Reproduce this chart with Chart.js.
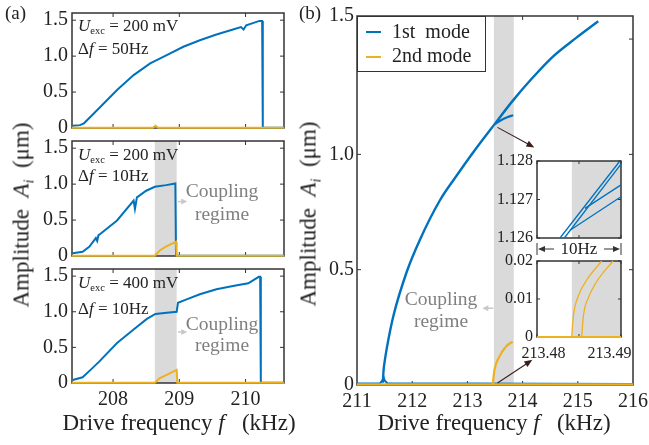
<!DOCTYPE html>
<html>
<head>
<meta charset="utf-8">
<script src="https://cdn.jsdelivr.net/npm/chart.js@4.4.0/dist/chart.umd.min.js"></script>
<style>
  body { margin: 0; width: 649px; height: 445px; position: relative; overflow: hidden; background: #fff;
         font-family: 'Liberation Serif', serif; color: #222; }
  canvas { position: absolute; }
  .t { position: absolute; white-space: nowrap; line-height: 1; }
  .t sub { font-size: 0.62em; position: relative; top: 0.32em; vertical-align: baseline; line-height: 0; }
  .gray { color: #7f7f7f; text-align: center; }
  #legend { position: absolute; left: 357px; top: 16px; width: 127px; height: 54px; border: 1px solid #333; background: #fff; }
  .sw { position: absolute; left: 8px; width: 15px; height: 2px; }
</style>
</head>
<body>
<div id="legend">
  <div class="sw" style="top:14px;background:#0072BD"></div>
  <div class="sw" style="top:39px;background:#EDB120"></div>
</div>
<script>
const FONT = "'Liberation Serif', serif";
const BLUE = '#0072BD';
const ORANGE = '#EDB120';
const BAND = '#dadada';

// ---- panel (a): three sweeps, points are [f (kHz), A (um)]
const aTicksX = [208, 209, 210];
const aTicksY = [0, 0.5, 1.0, 1.5];
const aBand = [208.63, 208.96];

// U = 200 mV, df = 50 Hz
const a1Mode1 = [[207.39,0.03],[207.50,0.04],[207.56,0.065],[207.66,0.157],[207.81,0.296],[208.06,0.528],
  [208.31,0.736],[208.56,0.90],[208.81,1.014],[209.06,1.13],[209.31,1.22],[209.56,1.30],[209.81,1.37],
  [209.93,1.405],[209.97,1.37],[210.01,1.43],[210.21,1.49],[210.25,1.49],[210.26,0.004],[210.58,0.004]];
const a1Mode2 = [[207.38,0.004],[208.60,0.004],[208.64,0.03],[208.68,0.004],[210.58,0.004]];

// U = 200 mV, df = 10 Hz
const a2Mode1 = [[207.39,0.037],[207.54,0.06],[207.64,0.128],[207.74,0.25],[207.76,0.21],[207.78,0.29],
  [207.81,0.31],[208.06,0.495],[208.31,0.77],[208.33,0.656],[208.36,0.816],[208.50,0.908],[208.63,0.963],
  [208.80,0.986],[208.94,1.008],[208.95,0.004],[210.58,0.004]];
const a2Mode2 = [[207.38,0.004],[208.63,0.004],[208.64,0.014],[208.71,0.08],[208.81,0.137],[208.95,0.197],
  [208.96,0.004],[210.58,0.004]];

// U = 400 mV, df = 10 Hz
const a3Mode1 = [[207.39,0.042],[207.54,0.08],[207.66,0.184],[207.79,0.30],[208.06,0.56],[208.31,0.75],
  [208.51,0.90],[208.64,0.97],[208.81,0.986],[208.96,1.0],[208.98,1.127],[209.11,1.174],[209.31,1.245],
  [209.56,1.316],[209.81,1.362],[210.04,1.40],[210.20,1.49],[210.22,1.49],[210.23,0.004],[210.58,0.004]];
const a3Mode2 = [[207.38,0.004],[208.63,0.004],[208.64,0.01],[208.70,0.066],[208.81,0.113],[208.96,0.184],
  [208.97,0.004],[210.58,0.004]];

// ---- panel (b)
const bTicksX = [211, 212, 213, 214, 215, 216];
const bTicksY = [0, 0.5, 1.0, 1.6];   // top tick carries the "1.5" label
const bBand = [213.48, 213.84];
const bMode1Up = [[211.47,0.01],[211.48,0.06],[211.50,0.10],[211.54,0.16],[211.66,0.30],[211.90,0.49],
  [212.14,0.63],[212.50,0.80],[212.80,0.906],[213.10,1.007],[213.49,1.13],[213.82,1.232],[214.18,1.332],
  [214.54,1.422],[214.97,1.505],[215.37,1.577]];
const bMode1Low = [[213.49,1.13],[213.60,1.147],[213.72,1.161],[213.83,1.17]];
const bMode1Base = [[211,0.006],[211.42,0.008],[211.46,0.02],[211.48,0.035],[211.50,0.02],[211.55,0.008],[216,0.004]];
const bMode2Base = [[211,0.003],[216,0.003]];
const bMode2Up = [[213.46,0.003],[213.49,0.065],[213.58,0.123],[213.70,0.167],[213.82,0.188]];

// ---- insets (zoom around 213.48 kHz)
const inTicksX = [213.48, 213.485, 213.49];
const in1TicksY = [1.126, 1.127, 1.128];
const in2TicksY = [0, 0.01, 0.02];
const inBand = [213.48415, 213.49];
const in1Mode1 = [
  [[213.48274,1.12600],[213.48980,1.12798]],
  [[213.48325,1.12600],[213.49000,1.12792]],
  [[213.48571,1.12677],[213.49000,1.12738]],
  [[213.48393,1.12620],[213.49000,1.12707]]
];
const in2Mode2 = [
  [[213.48413,0],[213.48433,0.0055],[213.48492,0.0108],[213.48592,0.0150],[213.48770,0.0200]],
  [[213.48532,0],[213.48552,0.0055],[213.48611,0.0103],[213.48711,0.0146],[213.48905,0.0200]]
];
const in2Base = [[213.48,0],[213.49,0]];

function line(pts, color, width, smooth, order) {
  return {
    data: pts.map(p => ({ x: p[0], y: p[1] })),
    borderColor: color, borderWidth: width, pointRadius: 0, fill: false,
    tension: 0, cubicInterpolationMode: smooth ? 'monotone' : 'default',
    clip: 3, order: order
  };
}

function arrow(ctx, x0, y0, x1, y1, color, w, hl, hw) {
  const a = Math.atan2(y1 - y0, x1 - x0), c = Math.cos(a), s = Math.sin(a);
  ctx.strokeStyle = color; ctx.fillStyle = color; ctx.lineWidth = w;
  ctx.beginPath(); ctx.moveTo(x0, y0); ctx.lineTo(x1 - hl * 0.7 * c, y1 - hl * 0.7 * s); ctx.stroke();
  ctx.beginPath(); ctx.moveTo(x1, y1);
  ctx.lineTo(x1 - hl * c + hw * s, y1 - hl * s - hw * c);
  ctx.lineTo(x1 - hl * c - hw * s, y1 - hl * s + hw * c);
  ctx.closePath(); ctx.fill();
}

// band, box, inward ticks, arrows
function deco(d) {
  return {
    id: 'deco',
    beforeDatasetsDraw(chart) {
      const { ctx, chartArea: a, scales: { x, y } } = chart;
      ctx.save();
      if (d.band) {
        const x0 = x.getPixelForValue(d.band[0]), x1 = x.getPixelForValue(d.band[1]);
        ctx.fillStyle = BAND;
        ctx.fillRect(x0, a.top, x1 - x0, a.bottom - a.top);
      }
      ctx.strokeStyle = '#333'; ctx.lineWidth = 1.5;
      ctx.strokeRect(a.left, a.top, a.right - a.left, a.bottom - a.top);
      ctx.lineWidth = 1;
      const L = d.tl || 4;
      ctx.beginPath();
      (d.xm || []).forEach(v => {
        const p = x.getPixelForValue(v);
        ctx.moveTo(p, a.bottom); ctx.lineTo(p, a.bottom - L);
        ctx.moveTo(p, a.top); ctx.lineTo(p, a.top + L);
      });
      (d.ym || []).forEach(v => {
        const p = y.getPixelForValue(v);
        ctx.moveTo(a.left, p); ctx.lineTo(a.left + L, p);
        ctx.moveTo(a.right, p); ctx.lineTo(a.right - L, p);
      });
      ctx.stroke();
      ctx.restore();
    },
    afterDatasetsDraw(chart) {
      const { ctx, chartArea: a, scales: { x, y } } = chart;
      ctx.save();
      (d.arrows || []).forEach(r => {
        arrow(ctx, x.getPixelForValue(r[0]), y.getPixelForValue(r[1]),
              x.getPixelForValue(r[2]), y.getPixelForValue(r[3]), r[4], r[5], r[6], r[7]);
      });
      if (d.extra) d.extra(ctx, a, x, y);
      ctx.restore();
    }
  };
}

function axis(o, horiz, size) {
  return {
    type: 'linear', min: o.min, max: o.max,
    grid: { display: false, drawTicks: false },
    border: { display: false },
    afterBuildTicks: s => { s.ticks = o.ticks.map(v => ({ value: v })); },
    afterFit: s => {
      if (horiz) s.height = size; else s.width = size;
      s.paddingLeft = s.paddingRight = s.paddingTop = s.paddingBottom = 0;
    },
    ticks: {
      autoSkip: false, maxRotation: 0, minRotation: 0, padding: o.pad, color: '#222',
      font: { family: FONT, size: o.size }, callback: o.label
    }
  };
}

// area = [left, top, right, bottom] of the plot box in page pixels
function plot(area, xo, yo, sets, d) {
  const PL = 60, PT = 12, PR = 30, PB = 34;
  const c = document.createElement('canvas');
  const w = area[2] - area[0] + PL + PR, h = area[3] - area[1] + PT + PB;
  c.width = w; c.height = h;
  c.style.left = (area[0] - PL) + 'px'; c.style.top = (area[1] - PT) + 'px';
  c.style.width = w + 'px'; c.style.height = h + 'px';
  document.body.insertBefore(c, document.getElementById('legend'));
  return new Chart(c, {
    type: 'line',
    data: { datasets: sets },
    options: {
      responsive: false, animation: false, events: [],
      layout: { padding: { left: 0, top: PT, right: PR, bottom: 0 } },
      plugins: { legend: { display: false }, tooltip: { enabled: false } },
      scales: { x: axis(xo, true, PB), y: axis(yo, false, PL) }
    },
    plugins: [deco(d)]
  });
}

const fmtA = v => (v === 0 ? '0' : v.toFixed(1));
const none = () => '';
const GRAYARROW = '#c9c9c9';

function aPanel(area, m1, m2, showX, arrowY) {
  plot(area,
    { min: 207.38, max: 210.58, ticks: aTicksX, pad: 5, size: 20, label: showX ? (v => String(v)) : none },
    { min: 0, max: 1.6, ticks: aTicksY, pad: 4, size: 20, label: fmtA },
    [line(m2, ORANGE, 2, false, 0), line(m1, BLUE, 2, false, 1)],
    { band: arrowY ? aBand : null, xm: aTicksX, ym: [0.5, 1.0, 1.5],
      arrows: arrowY ? [[208.98, arrowY, 209.12, arrowY, GRAYARROW, 1.5, 6, 3]] : [] });
}

aPanel([72, 13, 284, 128], a1Mode1, a1Mode2, false, null);
aPanel([72, 141, 284, 256], a2Mode1, a2Mode2, false, 0.757);
aPanel([72, 269, 284, 383], a3Mode1, a3Mode2, true, 0.717);

// main (b)
const DARK = '#3b1e1e';
plot([357, 16, 633, 385],
  { min: 211, max: 216, ticks: bTicksX, pad: 5, size: 20, label: v => String(v) },
  { min: 0, max: 1.6, ticks: bTicksY, pad: 3, size: 20, label: v => (v > 1.55 ? '1.5' : fmtA(v)) },
  [line(bMode2Base, ORANGE, 2.2, false, 0), line(bMode2Up, ORANGE, 2.2, true, 0),
   line(bMode1Base, BLUE, 2, false, 1), line(bMode1Up, BLUE, 2.4, true, 1), line(bMode1Low, BLUE, 2.2, true, 1)],
  { band: bBand, xm: [212, 213, 214, 215], ym: [0.5, 1.0, 1.5],
    arrows: [[213.47, 0.333, 213.27, 0.333, GRAYARROW, 1.5, 6, 3],
             [213.545, 1.117, 214.213, 1.030, DARK, 1.1, 8, 3.2],
             [213.545, 0.009, 214.177, 0.109, DARK, 1.1, 8, 3.2]] });

// inset 1 (1st mode), with the "10Hz" span drawn under it
plot([537, 161, 621, 238],
  { min: 213.48, max: 213.49, ticks: inTicksX, pad: 4, size: 16, label: none },
  { min: 1.126, max: 1.128, ticks: in1TicksY, pad: 4, size: 16, label: v => v.toFixed(3) },
  in1Mode1.map(p => line(p, BLUE, 1.3, false, 1)),
  { band: inBand, xm: inTicksX, ym: in1TicksY, tl: 3,
    extra: (ctx, a) => {
      const yy = a.bottom + 11, mid = (a.left + a.right) / 2;
      ctx.strokeStyle = '#333'; ctx.lineWidth = 1;
      ctx.beginPath();
      ctx.moveTo(a.left, yy - 6); ctx.lineTo(a.left, yy + 6);
      ctx.moveTo(a.right, yy - 6); ctx.lineTo(a.right, yy + 6);
      ctx.stroke();
      arrow(ctx, a.left + 17, yy, a.left + 1, yy, '#333', 1, 7, 3);
      arrow(ctx, a.right - 17, yy, a.right - 1, yy, '#333', 1, 7, 3);
      ctx.fillStyle = '#222'; ctx.font = '17px ' + FONT;
      ctx.textAlign = 'center'; ctx.textBaseline = 'middle';
      ctx.fillText('10Hz', mid, yy + 1);
    } });

// inset 2 (2nd mode)
plot([537, 261, 621, 337],
  { min: 213.48, max: 213.49, ticks: inTicksX, pad: 4, size: 16, label: none },
  { min: 0, max: 0.02, ticks: in2TicksY, pad: 4, size: 16, label: v => (v === 0 ? '0' : v.toFixed(2)) },
  in2Mode2.map(p => line(p, ORANGE, 1.3, true, 0)).concat([line(in2Base, ORANGE, 2, false, 0)]),
  { band: inBand, xm: inTicksX, ym: in2TicksY, tl: 3,
    extra: (ctx, a, x) => {
      ctx.fillStyle = '#222'; ctx.font = '16px ' + FONT;
      ctx.textAlign = 'center'; ctx.textBaseline = 'alphabetic';
      ctx.fillText('213.48', x.getPixelForValue(213.48) + 6.5, a.bottom + 21);
      ctx.fillText('213.49', x.getPixelForValue(213.49) - 11.5, a.bottom + 21);
    } });

// ---- text
function txt(html, x, baseline, size, cls, center) {
  const d = document.createElement('div');
  d.className = 't' + (cls ? ' ' + cls : '');
  d.innerHTML = html;
  d.style.fontSize = size + 'px';
  d.style.left = x + 'px';
  d.style.top = (baseline - 0.8375 * size) + 'px';
  if (center) d.style.transform = 'translateX(-50%)';
  document.body.appendChild(d);
  return d;
}
function vtxt(html, cx, cy, size) {
  const d = document.createElement('div');
  d.className = 't';
  d.innerHTML = html;
  d.style.fontSize = size + 'px';
  d.style.left = cx + 'px';
  d.style.top = cy + 'px';
  d.style.transform = 'translate(-50%,-50%) rotate(-90deg)';
  document.body.appendChild(d);
}

txt('(a)', 5, 19, 19);
txt('(b)', 299, 19, 19);

const U = v => '<i>U</i><sub>exc</sub> = ' + v + ' mV';
const DF = v => '&Delta;<i>f</i> = ' + v + 'Hz';
txt(U(200), 78, 31, 17); txt(DF(50), 78, 54, 17);
txt(U(200), 78, 160, 17); txt(DF(10), 78, 181, 17);
txt(U(400), 78, 288, 17); txt(DF(10), 78, 314, 17);

txt('Coupling', 222, 197, 19.5, 'gray', true); txt('regime', 222, 220, 19.5, 'gray', true);
txt('Coupling', 222, 330, 19.5, 'gray', true); txt('regime', 222, 351, 19.5, 'gray', true);
txt('Coupling', 441, 305, 19.5, 'gray', true); txt('regime', 441, 327, 19.5, 'gray', true);

const XT = 'Drive frequency <i>f</i>&nbsp;&nbsp; (kHz)';
txt(XT, 179, 430, 23, '', true);
txt(XT, 494, 430, 23, '', true);
const YT = 'Amplitude&nbsp; <i>A<sub>i</sub></i>&nbsp; (&mu;m)';
vtxt(YT, 21, 215, 23);
vtxt(YT, 308, 214, 23);

txt('1st&nbsp; mode', 392, 38, 20);
txt('2nd mode', 392, 62, 20);
</script>
</body>
</html>
